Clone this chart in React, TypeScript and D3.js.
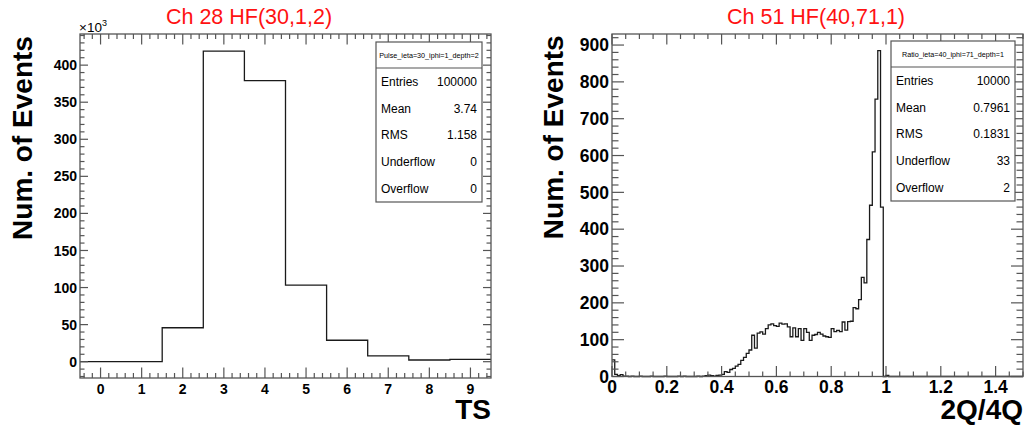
import React from 'react';
import * as d3 from 'd3';

// ---------------- data ----------------
const tsBins = [0, 1, 2, 3, 4, 5, 6, 7, 8, 9];
const tsCounts = [0, 0, 45.8, 418.9, 379.0, 103.3, 28.9, 7.8, 2.3, 3.2]; // ×10^3
const statLabels = ['Entries', 'Mean', 'RMS', 'Underflow', 'Overflow'];
const leftStatValues = ['100000', '3.74', '1.158', '0', '0'];
const leftStatTitle = 'Pulse_ieta=30_iphi=1_depth=2';
const leftTitle = 'Ch 28 HF(30,1,2)';

const ratioLow = 0;
const ratioHigh = 1.5;
const ratioCounts = [
  45, 6, 2, 5, 1, 1, 0, 1, 0, 0,
  1, 0, 0, 0, 1, 0, 0, 0, 0, 1,
  0, 0, 0, 0, 1, 0, 1, 0, 0, 0,
  0, 1, 0, 1, 2, 4, 2, 1, 3, 4,
  6, 13, 11, 19, 22, 28, 33, 44, 52, 63,
  72, 112, 77, 118, 121, 115, 130, 140, 143, 138,
  136, 145, 142, 143, 135, 108, 132, 108, 130, 98,
  130, 120, 98, 112, 114, 120, 115, 110, 108, 106,
  130, 122, 125, 122, 148, 126, 149, 150, 187, 184,
  209, 269, 254, 372, 465, 610, 753, 885, 460, 0,
  3, 0, 0, 0, 0, 0, 0, 0, 0, 0,
  0, 0, 0, 0, 0, 0, 0, 0, 0, 0,
  0, 0, 0, 0, 0, 0, 0, 0, 0, 0,
  0, 0, 0, 0, 0, 0, 0, 0, 0, 0,
  0, 0, 0, 0, 0, 0, 0, 0, 0, 0,
];
const rightStatValues = ['10000', '0.7961', '0.1831', '33', '2'];
const rightStatTitle = 'Ratio_ieta=40_iphi=71_depth=1';
const rightTitle = 'Ch 51 HF(40,71,1)';

const FONT = "'Liberation Sans', Arial, Helvetica, sans-serif";
const LINE = '#1a1a1a';
const FRAME = '#555';

type PanelProps = {
  frame: { x0: number; x1: number; y0: number; y1: number };
  xDomain: [number, number];
  yDomain: [number, number];
  edges: number[];
  counts: number[];
  xMajor: number;
  xMinor: number;
  yMajor: number;
  yMinor: number;
  xTickLen: [number, number];
  yTickLen: [number, number];
  tickFont: number;
  xFmt: (v: number) => string;
  title: string;
  titleX: number;
  yTitleX: number;
  xTitle: string;
  statTitle: string;
  statValues: string[];
  statBox: { x0: number; x1: number; y0: number; y1: number; head: number };
  multiplier?: boolean;
};

function Panel(p: PanelProps) {
  const { frame } = p;
  const x = d3.scaleLinear().domain(p.xDomain).range([frame.x0, frame.x1]);
  const y = d3.scaleLinear().domain(p.yDomain).range([frame.y1, frame.y0]);
  const eps = 1e-9;
  const rng = (lo: number, hi: number, step: number) => {
    const out: number[] = [];
    const start = Math.ceil((lo - eps) / step);
    const end = Math.floor((hi + eps) / step);
    for (let i = start; i <= end; i++) out.push(+(i * step).toFixed(6));
    return out;
  };
  const isMajor = (v: number, step: number) => Math.abs(v / step - Math.round(v / step)) < 1e-6;

  const xMinorTicks = rng(p.xDomain[0], p.xDomain[1], p.xMinor).filter(v => !isMajor(v, p.xMajor));
  const xMajorTicks = rng(p.xDomain[0], p.xDomain[1], p.xMajor);
  const yMinorTicks = rng(p.yDomain[0], p.yDomain[1], p.yMinor).filter(v => !isMajor(v, p.yMajor));
  const yMajorTicks = rng(p.yDomain[0], p.yDomain[1], p.yMajor);

  const pts: [number, number][] = p.counts.map((c, i) => [p.edges[i], c]);
  pts.push([p.edges[p.edges.length - 1], p.counts[p.counts.length - 1]]);
  const path = d3
    .line<[number, number]>()
    .x(d => x(d[0]))
    .y(d => y(d[1]))
    .curve(d3.curveStepAfter)(pts) as string;

  const sb = p.statBox;
  const rowH = (sb.y1 - sb.head) / statLabels.length;

  return (
    <g>
      {/* histogram */}
      <path d={path} fill="none" stroke={LINE} strokeWidth={1.3} />
      {/* frame */}
      <rect x={frame.x0} y={frame.y0} width={frame.x1 - frame.x0} height={frame.y1 - frame.y0}
        fill="none" stroke={FRAME} strokeWidth={1.3} />
      {/* x ticks bottom & top */}
      {xMajorTicks.map(v => (
        <g key={'xM' + v}>
          <line x1={x(v)} x2={x(v)} y1={frame.y1} y2={frame.y1 - p.xTickLen[0]} stroke={FRAME} strokeWidth={1.2} />
          <line x1={x(v)} x2={x(v)} y1={frame.y0} y2={frame.y0 + p.xTickLen[0]} stroke={FRAME} strokeWidth={1.2} />
          <text x={x(v)} y={frame.y1 + 16} textAnchor="middle" fontFamily={FONT} fontWeight="bold"
            fontSize={p.tickFont} fill="#000">{p.xFmt(v)}</text>
        </g>
      ))}
      {xMinorTicks.map(v => (
        <g key={'xm' + v}>
          <line x1={x(v)} x2={x(v)} y1={frame.y1} y2={frame.y1 - p.xTickLen[1]} stroke={FRAME} strokeWidth={1.2} />
          <line x1={x(v)} x2={x(v)} y1={frame.y0} y2={frame.y0 + p.xTickLen[1]} stroke={FRAME} strokeWidth={1.2} />
        </g>
      ))}
      {/* y ticks left & right */}
      {yMajorTicks.map(v => (
        <g key={'yM' + v}>
          <line x1={frame.x0} x2={frame.x0 + p.yTickLen[0]} y1={y(v)} y2={y(v)} stroke={FRAME} strokeWidth={1.2} />
          <line x1={frame.x1} x2={frame.x1 - p.yTickLen[0]} y1={y(v)} y2={y(v)} stroke={FRAME} strokeWidth={1.2} />
          <text x={frame.x0 - 3} y={y(v)} dy="0.36em" textAnchor="end" fontFamily={FONT} fontWeight="bold"
            fontSize={p.tickFont} fill="#000">{String(v)}</text>
        </g>
      ))}
      {yMinorTicks.map(v => (
        <g key={'ym' + v}>
          <line x1={frame.x0} x2={frame.x0 + p.yTickLen[1]} y1={y(v)} y2={y(v)} stroke={FRAME} strokeWidth={1.2} />
          <line x1={frame.x1} x2={frame.x1 - p.yTickLen[1]} y1={y(v)} y2={y(v)} stroke={FRAME} strokeWidth={1.2} />
        </g>
      ))}
      {/* titles */}
      <text x={p.titleX} y={24} textAnchor="middle" fontFamily={FONT} fontSize={21.5} fill="#ff1111">{p.title}</text>
      <text transform={`translate(${p.yTitleX},${(frame.y0 + frame.y1) / 2 - 68}) rotate(-90)`} textAnchor="middle"
        fontFamily={FONT} fontWeight="bold" fontSize={28} fill="#000">Num. of Events</text>
      <text x={frame.x1} y={419} textAnchor="end" fontFamily={FONT} fontWeight="bold" fontSize={28} fill="#000">{p.xTitle}</text>
      {p.multiplier && (
        <text x={frame.x0 - 1} y={32} fontFamily={FONT} fontSize={13.5} fill="#000">
          ×10<tspan fontSize={9} dy={-6}>3</tspan>
        </text>
      )}
      {/* stats box */}
      <rect x={sb.x0} y={sb.y0} width={sb.x1 - sb.x0} height={sb.y1 - sb.y0} fill="#fff" stroke={FRAME} strokeWidth={1.2} />
      <line x1={sb.x0} x2={sb.x1} y1={sb.head} y2={sb.head} stroke={FRAME} strokeWidth={1.2} />
      <text x={(sb.x0 + sb.x1) / 2} y={(sb.y0 + sb.head) / 2} dy="0.35em" textAnchor="middle" fontFamily={FONT}
        fontSize={7.2} fill="#000">{p.statTitle}</text>
      {statLabels.map((lab, i) => (
        <g key={lab}>
          <text x={sb.x0 + 5} y={sb.head + rowH * (i + 0.5)} dy="0.36em" fontFamily={FONT} fontSize={12} fill="#000">{lab}</text>
          <text x={sb.x1 - 5} y={sb.head + rowH * (i + 0.5)} dy="0.36em" textAnchor="end" fontFamily={FONT} fontSize={12} fill="#000">{p.statValues[i]}</text>
        </g>
      ))}
    </g>
  );
}

export default function App() {
  const tsEdges = [...tsBins.map(b => b - 0.5), tsBins[tsBins.length - 1] + 0.5];
  const binW = (ratioHigh - ratioLow) / ratioCounts.length;
  const ratioEdges = [...ratioCounts.map((_, i) => ratioLow + i * binW), ratioHigh];
  return (
    <svg width={1025} height={430} style={{ position: 'absolute', left: 0, top: 0, background: '#fff' }}>
      <rect x={0} y={0} width={1025} height={430} fill="#fff" />
      <Panel
        frame={{ x0: 80, x1: 491, y0: 34, y1: 378 }}
        xDomain={[-0.5, 9.5]}
        yDomain={[-22, 442]}
        edges={tsEdges}
        counts={tsCounts}
        xMajor={1}
        xMinor={0.2}
        yMajor={50}
        yMinor={10}
        xTickLen={[10.5, 5]}
        yTickLen={[8, 4.5]}
        tickFont={14}
        xFmt={v => String(v)}
        title={leftTitle}
        titleX={249}
        yTitleX={32}
        xTitle="TS"
        statTitle={leftStatTitle}
        statValues={leftStatValues}
        statBox={{ x0: 376, x1: 482, y0: 42, y1: 202, head: 68 }}
        multiplier
      />
      <Panel
        frame={{ x0: 612, x1: 1023, y0: 34, y1: 376.5 }}
        xDomain={[ratioLow, ratioHigh]}
        yDomain={[0, 930]}
        edges={ratioEdges}
        counts={ratioCounts}
        xMajor={0.2}
        xMinor={0.05}
        yMajor={100}
        yMinor={20}
        xTickLen={[10.5, 5]}
        yTickLen={[12, 6.5]}
        tickFont={17.5}
        xFmt={v => String(+v.toFixed(1))}
        title={rightTitle}
        titleX={816}
        yTitleX={563}
        xTitle="2Q/4Q"
        statTitle={rightStatTitle}
        statValues={rightStatValues}
        statBox={{ x0: 891, x1: 1015, y0: 41, y1: 201, head: 67 }}
      />
    </svg>
  );
}
